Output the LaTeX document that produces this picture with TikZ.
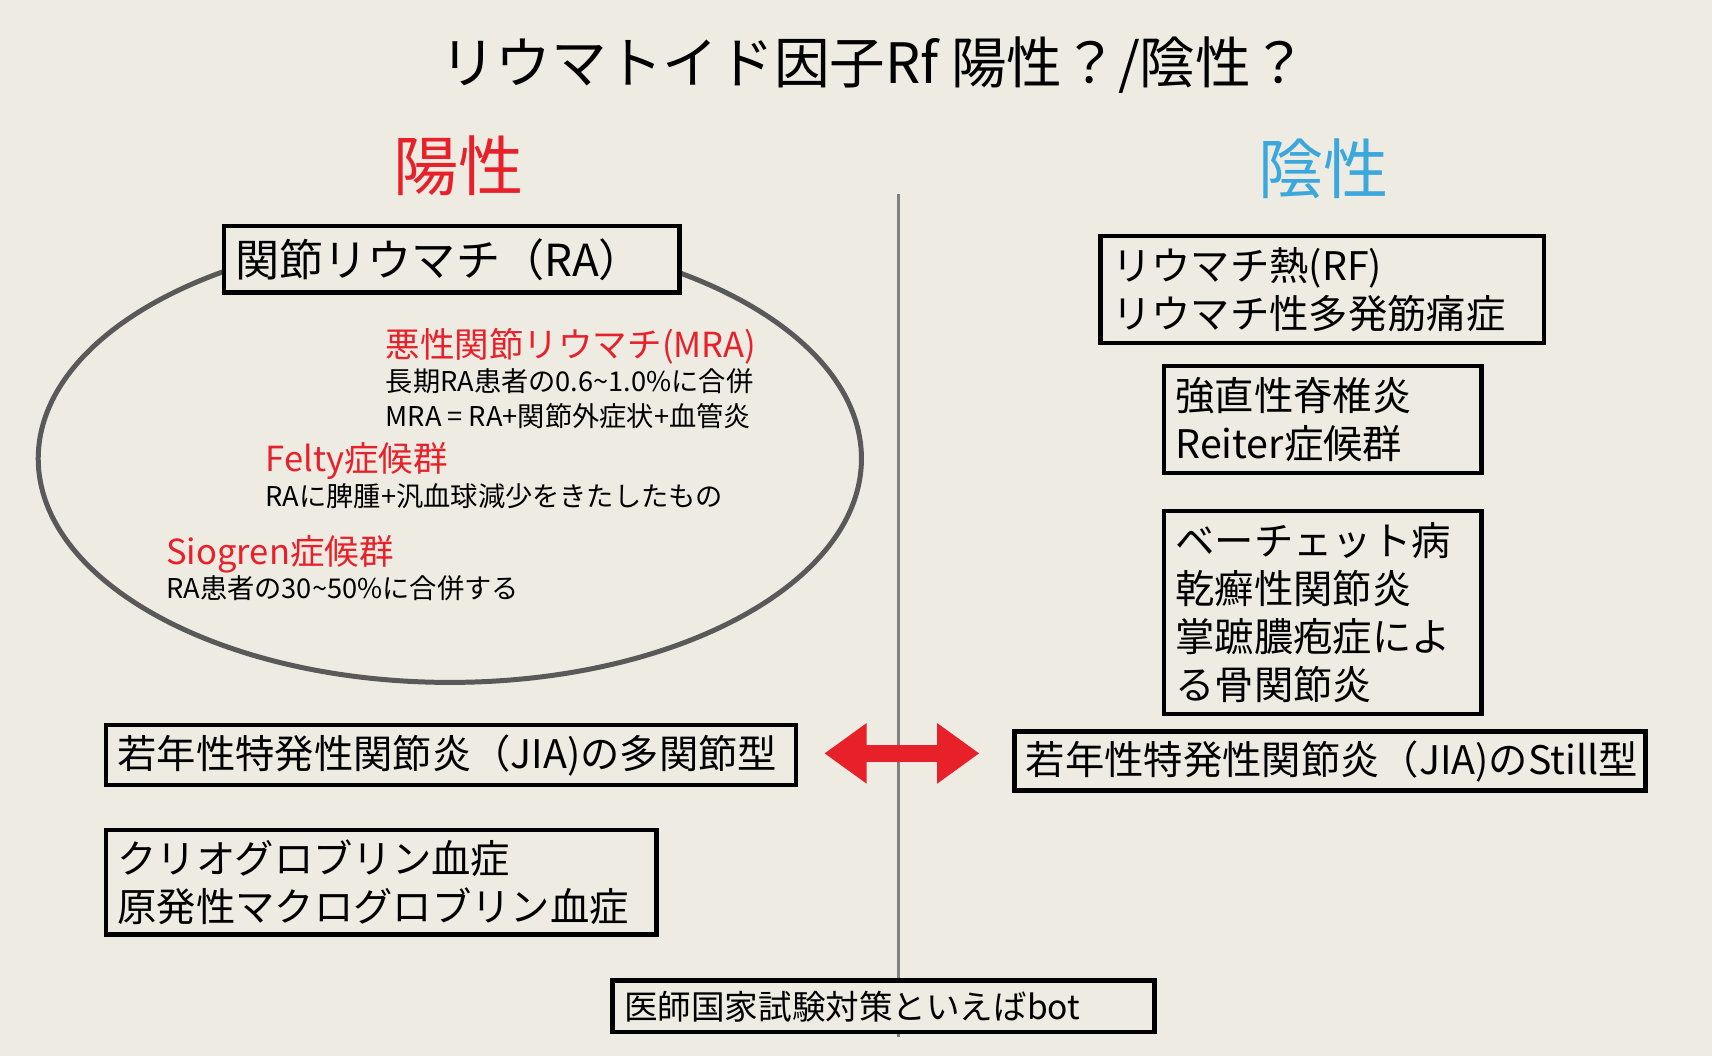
\documentclass[tikz,border=0pt]{standalone}
\usepackage{fontspec}
\setmainfont{Noto Sans CJK JP}
\usetikzlibrary{arrows.meta}
\definecolor{bg}{HTML}{EEEBE3}
\definecolor{posred}{HTML}{E8202A}
\definecolor{negblue}{HTML}{3AA8DC}
\tikzset{
  sbox/.style={draw, line width=2.4pt, fill=bg, anchor=north west, align=left, inner xsep=6pt, inner ysep=0pt,
    text width=#1*0.02cm-12pt, font=\fontsize{20.5}{25}\selectfont},
  note/.style={anchor=north west, align=left, inner sep=0pt, font=\fontsize{14.2}{18}\selectfont}
}
\newcommand{\rednote}[1]{{\fontsize{18}{20}\selectfont\color{posred}#1}}
\begin{document}
\begin{tikzpicture}[x=0.02cm, y=-0.02cm]
            \fill[bg] (0,0) rectangle (1568,967);
            \useasboundingbox (0,0) rectangle (1568,967);

            %title and headings
            \node[font=\fontsize{29}{32}\selectfont] (title) at (800,60) {リウマトイド因子Rf 陽性？/陰性？};
            \node[text=posred, font=\fontsize{34}{36}\selectfont] (pos) at (420,152) {陽性};
            \node[text=negblue, font=\fontsize{34}{36}\selectfont] (neg) at (1212,155) {陰性};

            %divider
            \coordinate (dtop) at (823,178);
            \coordinate (dbot) at (823,950);
            \draw[gray, line width=1.5pt] (dtop) -- (dbot);

            %positive side
            \draw[black!65, line width=2.6pt] (412,420) ellipse (377 and 205);
            \node[sbox=417, minimum height=61*0.02cm, font=\fontsize{23}{26}\selectfont] (ra) at (203,205)
                {関節リウマチ（RA）};
            \node[note] (mra) at (353,300) {\rednote{悪性関節リウマチ(MRA)}\\長期RA患者の0.6\textasciitilde1.0\%に合併\\MRA = RA+関節外症状+血管炎};
            \node[note] (felty) at (243,405) {\rednote{Felty症候群}\\RAに脾腫+汎血球減少をきたしたもの};
            \node[note] (siogren) at (152,490) {\rednote{Siogren症候群}\\RA患者の30\textasciitilde50\%に合併する};
            \node[sbox=632, minimum height=55*0.02cm] (jial) at (95,662)
                {若年性特発性関節炎（JIA)の多関節型};
            \node[sbox=504, minimum height=96*0.02cm] (cryo) at (95,758)
                {クリオグロブリン血症\\原発性マクログロブリン血症};

            %negative side
            \node[sbox=406, minimum height=98*0.02cm] (rf) at (1006,214)
                {リウマチ熱(RF)\\リウマチ性多発筋痛症};
            \node[sbox=291, minimum height=98*0.02cm] (as) at (1064,333)
                {強直性脊椎炎\\Reiter症候群};
            \node[sbox=291, minimum height=186*0.02cm] (behcet) at (1064,466)
                {ベーチェット病\\乾癬性関節炎\\掌蹠膿疱症によ\\る骨関節炎};
            \node[sbox=578, minimum height=54*0.02cm] (jiar) at (927,668)
                {若年性特発性関節炎（JIA)のStill型};

            %arrow
            \coordinate (al) at (755,690);
            \coordinate (ar) at (897,690);
            \draw[posred, line width=9pt, {Triangle[length=22pt,width=30pt]}-{Triangle[length=22pt,width=30pt]}] (al) -- (ar);

            %footer
            \node[sbox=496, minimum height=47*0.02cm, font=\fontsize{17.5}{20}\selectfont] (bot) at (559,896)
                {医師国家試験対策といえばbot};
\end{tikzpicture}
\end{document}
